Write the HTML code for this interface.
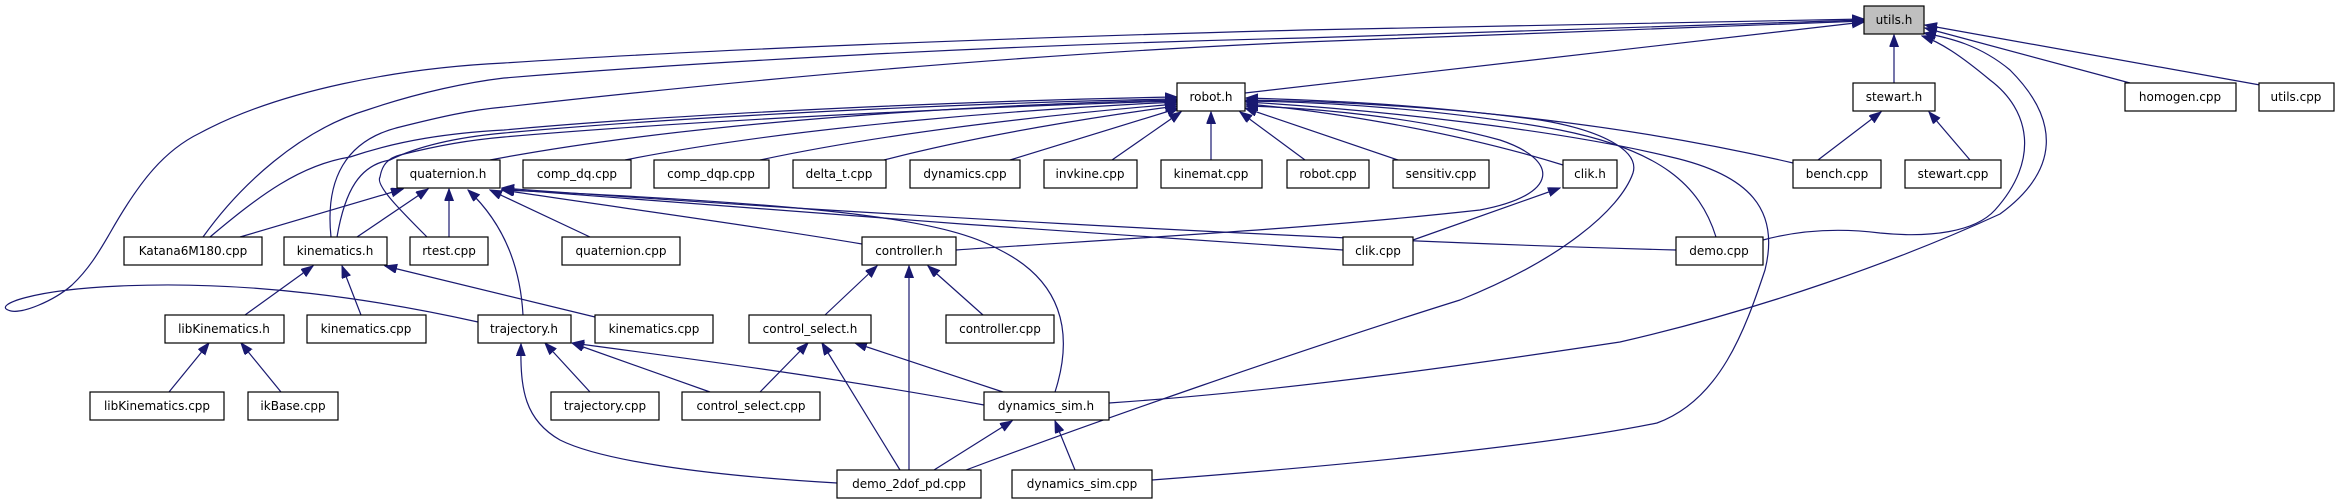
<!DOCTYPE html>
<html><head><meta charset="utf-8"><style>
html,body{margin:0;padding:0;background:#fff;}
svg{display:block;}
text{font-family:"DejaVu Sans","Liberation Sans",sans-serif;font-size:12px;fill:#000;}
.e{fill:none;stroke:#191970;stroke-width:1.2;marker-end:url(#a);}
rect{fill:#fff;stroke:#000;stroke-width:1.2;}
</style></head><body>
<svg width="2340" height="504" viewBox="0 0 2340 504" xmlns="http://www.w3.org/2000/svg">
<defs><marker id="a" markerUnits="userSpaceOnUse" markerWidth="13" markerHeight="10" refX="12" refY="4.5" orient="auto"><path d="M0,0 L12,4.5 L0,9 z" fill="#191970" stroke="#191970"/></marker></defs>
<!-- edges to utils.h -->
<path class="e" d="M1245,93 L1864,22"/>
<path class="e" d="M1894,83 L1894,35"/>
<path class="e" d="M2130,83 L1925,28"/>
<path class="e" d="M2260,85 L1925,25"/>
<path class="e" d="M1763,240 C1800,230 1840,228 1880,233 C1930,238 1975,232 1995,210 C2040,160 2030,110 1990,80 C1960,55 1940,42 1922,36"/>
<path class="e" d="M1109,403 C1300,390 1500,360 1620,342 C1760,310 1900,260 2000,214 C2060,170 2060,120 2010,70 C1980,45 1950,38 1924,33"/>
<path class="e" d="M203,237 C240,185 300,130 367,110 C420,92 470,82 504,78 C700,62 1000,45 1304,38 L1864,20"/>
<path class="e" d="M331,237 C325,180 345,140 400,127 C440,117 470,110 504,107 C700,85 1000,55 1304,42 L1864,21"/>
<path class="e" d="M478,322 C380,300 250,280 120,286 C30,290 -5,305 8,310 C20,316 55,300 72,285 C90,268 100,250 110,233 C140,180 165,150 200,133 C280,90 400,68 504,63 C700,50 1000,38 1304,30 L1864,19"/>
<!-- edges to robot.h -->
<path class="e" d="M490,160 C700,120 1000,104 1177,100"/>
<path class="e" d="M625,160 C800,125 1050,108 1177,102"/>
<path class="e" d="M760,160 C900,130 1080,112 1177,104"/>
<path class="e" d="M884,160 C980,135 1100,116 1177,106"/>
<path class="e" d="M1010,160 L1179,108"/>
<path class="e" d="M1112,160 L1181,112"/>
<path class="e" d="M1211,160 L1211,112"/>
<path class="e" d="M1305,160 L1240,112"/>
<path class="e" d="M1398,160 L1245,108"/>
<path class="e" d="M1563,165 C1450,130 1320,110 1246,104"/>
<path class="e" d="M1793,163 C1600,118 1400,102 1246,100"/>
<path class="e" d="M1716,237 C1700,185 1660,150 1560,130 C1450,110 1330,102 1246,101"/>
<path class="e" d="M956,250 C1100,240 1300,230 1480,210 C1560,195 1560,160 1500,140 C1420,118 1320,108 1246,106"/>
<path class="e" d="M966,470 C1100,420 1300,350 1460,300 C1560,260 1620,210 1633,173 C1640,150 1600,130 1540,120 C1420,104 1320,100 1246,98"/>
<path class="e" d="M1152,480 C1350,465 1550,445 1657,423 C1720,400 1745,330 1765,270 C1780,210 1750,175 1671,157 C1560,130 1380,110 1246,102"/>
<path class="e" d="M210,237 C260,195 300,165 350,157 C400,140 450,133 504,130 C700,112 1000,100 1177,97"/>
<path class="e" d="M337,237 C345,190 360,165 390,160 C420,145 460,137 504,133 C700,115 1000,102 1177,99"/>
<path class="e" d="M427,237 C400,210 375,185 380,177 C382,165 388,158 400,155 C440,145 470,140 504,137 C700,120 1000,106 1177,101"/>
<!-- quaternion.h children -->
<path class="e" d="M240,237 L403,189"/>
<path class="e" d="M357,237 L428,189"/>
<path class="e" d="M449,237 L449,189"/>
<path class="e" d="M523,315 C520,260 500,220 468,190"/>
<path class="e" d="M590,237 L490,190"/>
<path class="e" d="M862,244 C750,225 600,205 502,190"/>
<path class="e" d="M1343,250 C1100,235 700,205 502,189"/>
<path class="e" d="M1676,250 C1300,240 800,210 502,188"/>
<path class="e" d="M1055,392 C1075,330 1060,280 1000,250 C950,222 850,205 502,190"/>
<!-- others -->
<path class="e" d="M1413,240 L1560,188"/>
<path class="e" d="M1818,160 L1881,112"/>
<path class="e" d="M1970,160 L1929,112"/>
<path class="e" d="M825,315 L877,266"/>
<path class="e" d="M909,470 L909,266"/>
<path class="e" d="M983,315 L928,266"/>
<path class="e" d="M760,392 L808,343"/>
<path class="e" d="M900,470 L822,343"/>
<path class="e" d="M1003,392 L855,343"/>
<path class="e" d="M590,392 L545,343"/>
<path class="e" d="M710,392 L572,343"/>
<path class="e" d="M984,405 C850,380 700,360 572,343"/>
<path class="e" d="M837,483 C700,475 600,460 560,440 C525,420 520,390 521,344"/>
<path class="e" d="M934,470 L1012,421"/>
<path class="e" d="M1075,470 L1055,421"/>
<path class="e" d="M245,315 L313,266"/>
<path class="e" d="M361,315 L342,266"/>
<path class="e" d="M595,317 L385,266"/>
<path class="e" d="M169,392 L209,343"/>
<path class="e" d="M281,392 L241,343"/>
<!-- nodes -->
<rect x="1864" y="6" width="60" height="28" style="fill:#bfbfbf"/><text x="1894" y="24" text-anchor="middle">utils.h</text>
<rect x="1177" y="83" width="68" height="28"/><text x="1211" y="101" text-anchor="middle">robot.h</text>
<rect x="1853" y="83" width="82" height="28"/><text x="1894" y="101" text-anchor="middle">stewart.h</text>
<rect x="2125" y="83" width="111" height="28"/><text x="2180" y="101" text-anchor="middle">homogen.cpp</text>
<rect x="2259" y="83" width="75" height="28"/><text x="2296" y="101" text-anchor="middle">utils.cpp</text>
<rect x="397" y="160" width="103" height="28"/><text x="448" y="178" text-anchor="middle">quaternion.h</text>
<rect x="523" y="160" width="108" height="28"/><text x="577" y="178" text-anchor="middle">comp_dq.cpp</text>
<rect x="654" y="160" width="115" height="28"/><text x="711" y="178" text-anchor="middle">comp_dqp.cpp</text>
<rect x="793" y="160" width="93" height="28"/><text x="839" y="178" text-anchor="middle">delta_t.cpp</text>
<rect x="910" y="160" width="110" height="28"/><text x="965" y="178" text-anchor="middle">dynamics.cpp</text>
<rect x="1044" y="160" width="93" height="28"/><text x="1090" y="178" text-anchor="middle">invkine.cpp</text>
<rect x="1161" y="160" width="101" height="28"/><text x="1211" y="178" text-anchor="middle">kinemat.cpp</text>
<rect x="1287" y="160" width="82" height="28"/><text x="1328" y="178" text-anchor="middle">robot.cpp</text>
<rect x="1393" y="160" width="96" height="28"/><text x="1441" y="178" text-anchor="middle">sensitiv.cpp</text>
<rect x="1563" y="160" width="54" height="28"/><text x="1590" y="178" text-anchor="middle">clik.h</text>
<rect x="1793" y="160" width="88" height="28"/><text x="1837" y="178" text-anchor="middle">bench.cpp</text>
<rect x="1905" y="160" width="96" height="28"/><text x="1953" y="178" text-anchor="middle">stewart.cpp</text>
<rect x="124" y="237" width="138" height="28"/><text x="193" y="255" text-anchor="middle">Katana6M180.cpp</text>
<rect x="284" y="237" width="103" height="28"/><text x="335" y="255" text-anchor="middle">kinematics.h</text>
<rect x="410" y="237" width="78" height="28"/><text x="449" y="255" text-anchor="middle">rtest.cpp</text>
<rect x="562" y="237" width="118" height="28"/><text x="621" y="255" text-anchor="middle">quaternion.cpp</text>
<rect x="862" y="237" width="94" height="28"/><text x="909" y="255" text-anchor="middle">controller.h</text>
<rect x="1343" y="237" width="70" height="28"/><text x="1378" y="255" text-anchor="middle">clik.cpp</text>
<rect x="1676" y="237" width="87" height="28"/><text x="1719" y="255" text-anchor="middle">demo.cpp</text>
<rect x="165" y="315" width="119" height="28"/><text x="224" y="333" text-anchor="middle">libKinematics.h</text>
<rect x="307" y="315" width="119" height="28"/><text x="366" y="333" text-anchor="middle">kinematics.cpp</text>
<rect x="478" y="315" width="93" height="28"/><text x="524" y="333" text-anchor="middle">trajectory.h</text>
<rect x="595" y="315" width="118" height="28"/><text x="654" y="333" text-anchor="middle">kinematics.cpp</text>
<rect x="749" y="315" width="122" height="28"/><text x="810" y="333" text-anchor="middle">control_select.h</text>
<rect x="946" y="315" width="108" height="28"/><text x="1000" y="333" text-anchor="middle">controller.cpp</text>
<rect x="90" y="392" width="134" height="28"/><text x="157" y="410" text-anchor="middle">libKinematics.cpp</text>
<rect x="248" y="392" width="90" height="28"/><text x="293" y="410" text-anchor="middle">ikBase.cpp</text>
<rect x="551" y="392" width="108" height="28"/><text x="605" y="410" text-anchor="middle">trajectory.cpp</text>
<rect x="682" y="392" width="138" height="28"/><text x="751" y="410" text-anchor="middle">control_select.cpp</text>
<rect x="984" y="392" width="125" height="28"/><text x="1046" y="410" text-anchor="middle">dynamics_sim.h</text>
<rect x="837" y="470" width="144" height="28"/><text x="909" y="488" text-anchor="middle">demo_2dof_pd.cpp</text>
<rect x="1012" y="470" width="140" height="28"/><text x="1082" y="488" text-anchor="middle">dynamics_sim.cpp</text>
</svg>
</body></html>
